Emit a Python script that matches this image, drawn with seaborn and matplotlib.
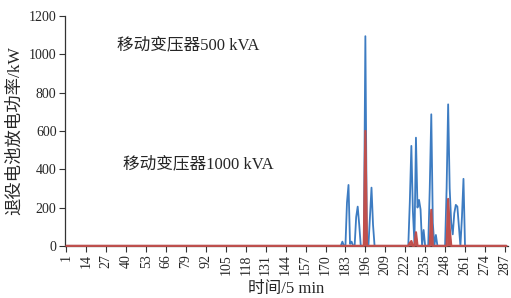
"""Retired-battery discharge power for two mobile transformers."""

import numpy as np
import pandas as pd
import matplotlib
matplotlib.use("Agg")
import matplotlib.pyplot as plt
import seaborn as sns

# time steps (5 min each) and the non-zero discharge power, kW
n_steps = 288
time_500 = [180, 181, 182, 183, 184, 185, 186, 187, 188, 189, 190, 191, 192, 193,
            195, 196, 197, 198, 199, 200, 201, 202,
            224, 225, 226, 227, 228, 229, 230, 231, 232, 233, 234, 235,
            237, 238, 239, 240, 241, 242, 243,
            248, 249, 250, 251, 252, 253, 254, 255, 256, 257, 258, 259, 260, 261]
power_500 = [0, 22, 0, 0, 225, 318, 10, 22, 0, 0, 150, 205, 110, 0,
             0, 1095, 0, 0, 150, 304, 110, 0,
             0, 230, 522, 180, 14, 565, 200, 240, 190, 0, 83, 0,
             0, 300, 687, 120, 0, 57, 0,
             0, 300, 739, 300, 120, 60, 170, 214, 205, 100, 0, 150, 350, 0]

time_1000 = [195, 196, 197, 224, 225, 226, 227, 228, 229, 230,
             238, 239, 240, 249, 250, 251, 252]
power_1000 = [0, 600, 0, 0, 15, 25, 0, 0, 71, 0,
              0, 188, 0, 0, 245, 90, 0]

x_ticks = list(range(1, n_steps + 1, 13))
label_500 = "移动变压器500 kVA"
label_1000 = "移动变压器1000 kVA"

steps = np.arange(1, n_steps + 1)
s500 = pd.Series(power_500, index=time_500).reindex(steps, fill_value=0)
s1000 = pd.Series(power_1000, index=time_1000).reindex(steps, fill_value=0)
df = pd.DataFrame({"t": steps, "p500": s500.values, "p1000": s1000.values})

sns.set_style("ticks")
fonts = ["Liberation Serif", "Noto Sans CJK SC"]
plt.rcParams["font.family"] = fonts

blue = "#3D7CC2"
red = "#C0504D"

fig = plt.figure(figsize=(5.11, 2.98), dpi=100)
ax = fig.add_axes([0.127, 0.175, 0.867, 0.771])

sns.lineplot(data=df, x="t", y="p500", ax=ax, color=blue, linewidth=1.3)
ax.fill_between(df["t"], 0, df["p1000"], color=red, linewidth=0, zorder=3)
sns.lineplot(data=df, x="t", y="p1000", ax=ax, color=red, linewidth=1.6,
             zorder=4, clip_on=False)

ax.set_xlim(0, 289)
ax.set_ylim(0, 1200)
ax.set_yticks(range(0, 1201, 200))
ax.set_xticks(x_ticks)
ax.set_xticklabels([str(t) for t in x_ticks], rotation=90)
ax.tick_params(axis="both", labelsize=10, length=4, width=0.8, color="#333333",
               pad=2)
for side in ("top", "right"):
    ax.spines[side].set_visible(False)
for side in ("left", "bottom"):
    ax.spines[side].set_color("#333333")
    ax.spines[side].set_linewidth(0.9)

ax.set_xlabel("时间/5 min", fontsize=12, labelpad=4)
ax.set_ylabel("退役电池放电功率/kW", fontsize=12.5, labelpad=4)

ax.text(0.117, 0.874, label_500, transform=ax.transAxes, fontsize=12,
        ha="left", va="center")
ax.text(0.131, 0.357, label_1000, transform=ax.transAxes, fontsize=12,
        ha="left", va="center")

fig.savefig("out.png", dpi=100)
plt.close(fig)
